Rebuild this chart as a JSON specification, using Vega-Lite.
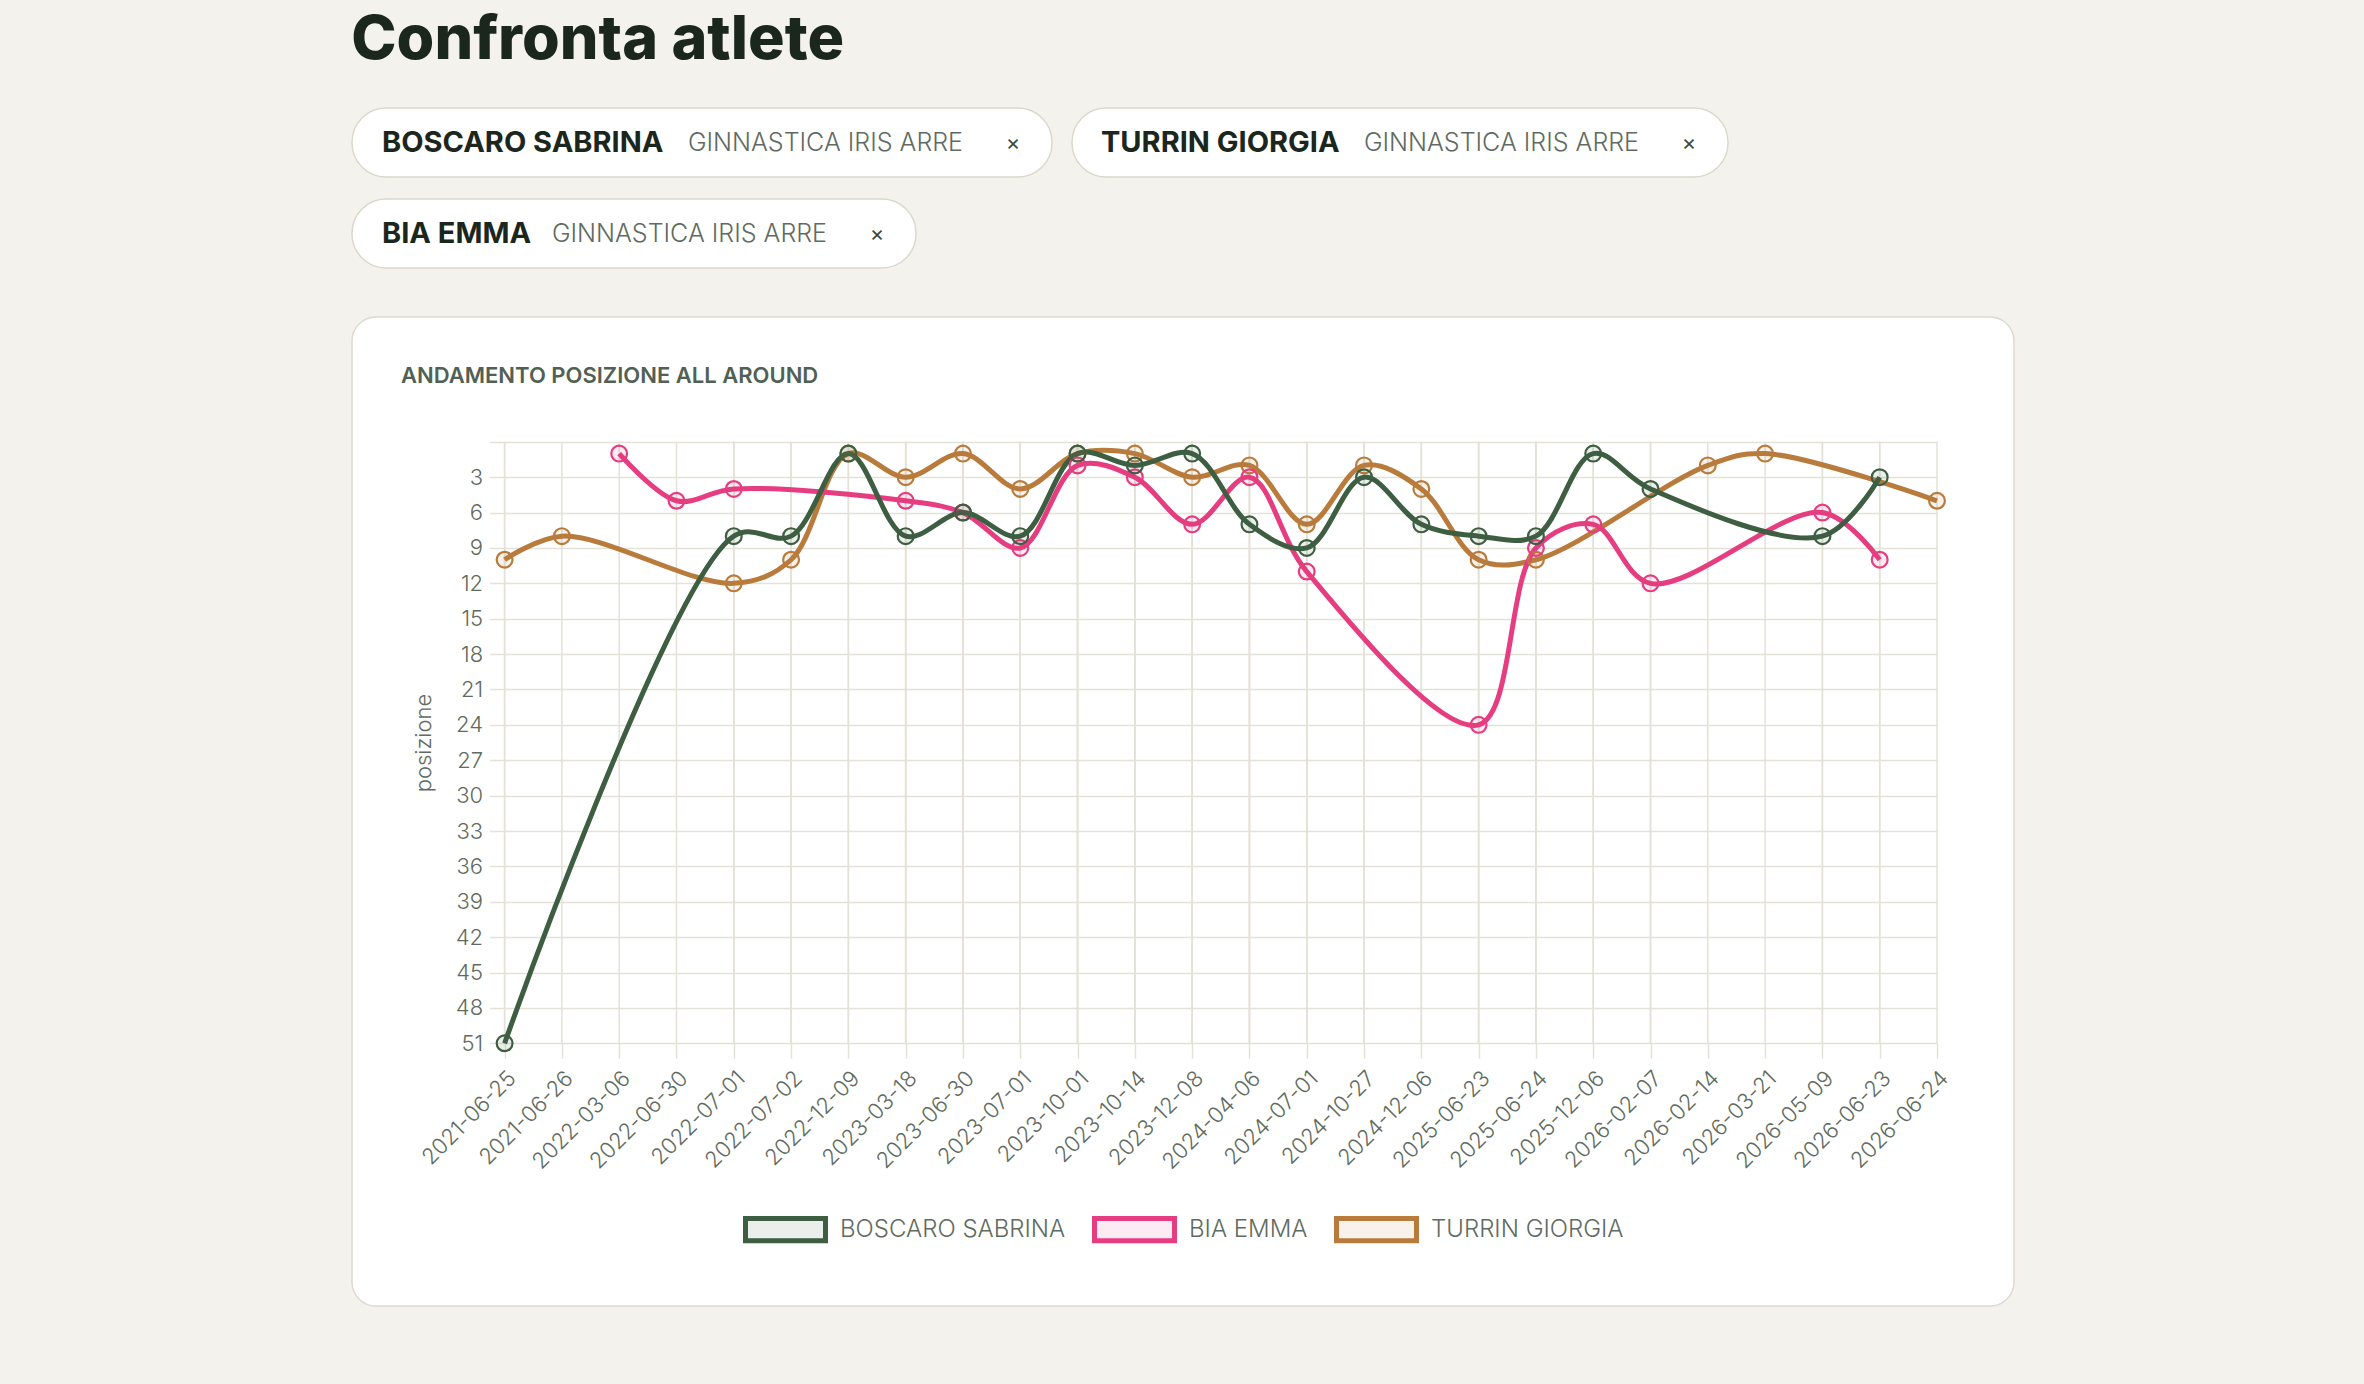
{
  "$schema": "https://vega.github.io/schema/vega-lite/v6.json",
  "background": "#f4f2ed",
  "padding": {"left": 351, "top": 10, "right": 351, "bottom": 81},
  "title": {"text": "Confronta atlete", "anchor": "start", "fontSize": 61, "fontWeight": 800, "font": "Inter", "color": "#1b261d", "baseline": "alphabetic", "offset": -13},
  "spacing": 47,
  "vconcat": [
    {
      "spacing": 20,
      "vconcat": [
        {
          "spacing": 18,
          "hconcat": [
            {
              "width": 700, "height": 69,
              "view": {"fill": "#ffffff", "stroke": "#dcd8cb", "strokeWidth": 1.5, "cornerRadius": 34},
              "data": {"values": [{"atleta": "BOSCARO SABRINA", "societa": "GINNASTICA IRIS ARRE"}]},
              "layer": [
                {"mark": {"type": "text", "align": "left", "dx": -320, "font": "Inter", "fontSize": 29, "fontWeight": 700, "color": "#1b261d"}, "encoding": {"text": {"field": "atleta"}}},
                {"mark": {"type": "text", "align": "right", "dx": 261, "font": "Inter", "fontSize": 25, "fontWeight": 300, "color": "#5f6b62"}, "encoding": {"text": {"field": "societa"}}},
                {"mark": {"type": "text", "align": "center", "dx": 311, "font": "Inter", "fontSize": 22, "color": "#3d4a40", "text": "×"}, "encoding": {}}
              ]
            },
            {
              "width": 656, "height": 69,
              "view": {"fill": "#ffffff", "stroke": "#dcd8cb", "strokeWidth": 1.5, "cornerRadius": 34},
              "data": {"values": [{"atleta": "TURRIN GIORGIA", "societa": "GINNASTICA IRIS ARRE"}]},
              "layer": [
                {"mark": {"type": "text", "align": "left", "dx": -299, "font": "Inter", "fontSize": 29, "fontWeight": 700, "color": "#1b261d"}, "encoding": {"text": {"field": "atleta"}}},
                {"mark": {"type": "text", "align": "right", "dx": 239, "font": "Inter", "fontSize": 25, "fontWeight": 300, "color": "#5f6b62"}, "encoding": {"text": {"field": "societa"}}},
                {"mark": {"type": "text", "align": "center", "dx": 289, "font": "Inter", "fontSize": 22, "color": "#3d4a40", "text": "×"}, "encoding": {}}
              ]
            }
          ]
        },
        {
          "width": 564, "height": 69,
          "view": {"fill": "#ffffff", "stroke": "#dcd8cb", "strokeWidth": 1.5, "cornerRadius": 34},
          "data": {"values": [{"atleta": "BIA EMMA", "societa": "GINNASTICA IRIS ARRE"}]},
          "layer": [
            {"mark": {"type": "text", "align": "left", "dx": -252, "font": "Inter", "fontSize": 29, "fontWeight": 700, "color": "#1b261d"}, "encoding": {"text": {"field": "atleta"}}},
            {"mark": {"type": "text", "align": "right", "dx": 193, "font": "Inter", "fontSize": 25, "fontWeight": 300, "color": "#5f6b62"}, "encoding": {"text": {"field": "societa"}}},
            {"mark": {"type": "text", "align": "center", "dx": 243, "font": "Inter", "fontSize": 22, "color": "#3d4a40", "text": "×"}, "encoding": {}}
          ]
        }
      ]
    },
    {
      "width": 1662, "height": 989,
      "view": {"fill": "#ffffff", "stroke": "#dedacf", "strokeWidth": 1.5, "cornerRadius": 24},
      "title": {"text": "ANDAMENTO POSIZIONE ALL AROUND", "anchor": "start", "dx": 49, "offset": -88, "baseline": "alphabetic", "fontSize": 22, "fontWeight": 600, "color": "#516054", "font": "Inter"},
      "data": {"values": [
        {"atleta": "TURRIN GIORGIA", "data": "2021-06-25", "posizione": 10},
        {"atleta": "TURRIN GIORGIA", "data": "2021-06-26", "posizione": 8},
        {"atleta": "TURRIN GIORGIA", "data": "2022-07-01", "posizione": 12},
        {"atleta": "TURRIN GIORGIA", "data": "2022-07-02", "posizione": 10},
        {"atleta": "TURRIN GIORGIA", "data": "2022-12-09", "posizione": 1},
        {"atleta": "TURRIN GIORGIA", "data": "2023-03-18", "posizione": 3},
        {"atleta": "TURRIN GIORGIA", "data": "2023-06-30", "posizione": 1},
        {"atleta": "TURRIN GIORGIA", "data": "2023-07-01", "posizione": 4},
        {"atleta": "TURRIN GIORGIA", "data": "2023-10-01", "posizione": 1},
        {"atleta": "TURRIN GIORGIA", "data": "2023-10-14", "posizione": 1},
        {"atleta": "TURRIN GIORGIA", "data": "2023-12-08", "posizione": 3},
        {"atleta": "TURRIN GIORGIA", "data": "2024-04-06", "posizione": 2},
        {"atleta": "TURRIN GIORGIA", "data": "2024-07-01", "posizione": 7},
        {"atleta": "TURRIN GIORGIA", "data": "2024-10-27", "posizione": 2},
        {"atleta": "TURRIN GIORGIA", "data": "2024-12-06", "posizione": 4},
        {"atleta": "TURRIN GIORGIA", "data": "2025-06-23", "posizione": 10},
        {"atleta": "TURRIN GIORGIA", "data": "2025-06-24", "posizione": 10},
        {"atleta": "TURRIN GIORGIA", "data": "2026-02-14", "posizione": 2},
        {"atleta": "TURRIN GIORGIA", "data": "2026-03-21", "posizione": 1},
        {"atleta": "TURRIN GIORGIA", "data": "2026-06-24", "posizione": 5},
        {"atleta": "BIA EMMA", "data": "2022-03-06", "posizione": 1},
        {"atleta": "BIA EMMA", "data": "2022-06-30", "posizione": 5},
        {"atleta": "BIA EMMA", "data": "2022-07-01", "posizione": 4},
        {"atleta": "BIA EMMA", "data": "2023-03-18", "posizione": 5},
        {"atleta": "BIA EMMA", "data": "2023-06-30", "posizione": 6},
        {"atleta": "BIA EMMA", "data": "2023-07-01", "posizione": 9},
        {"atleta": "BIA EMMA", "data": "2023-10-01", "posizione": 2},
        {"atleta": "BIA EMMA", "data": "2023-10-14", "posizione": 3},
        {"atleta": "BIA EMMA", "data": "2023-12-08", "posizione": 7},
        {"atleta": "BIA EMMA", "data": "2024-04-06", "posizione": 3},
        {"atleta": "BIA EMMA", "data": "2024-07-01", "posizione": 11},
        {"atleta": "BIA EMMA", "data": "2025-06-23", "posizione": 24},
        {"atleta": "BIA EMMA", "data": "2025-06-24", "posizione": 9},
        {"atleta": "BIA EMMA", "data": "2025-12-06", "posizione": 7},
        {"atleta": "BIA EMMA", "data": "2026-02-07", "posizione": 12},
        {"atleta": "BIA EMMA", "data": "2026-05-09", "posizione": 6},
        {"atleta": "BIA EMMA", "data": "2026-06-23", "posizione": 10},
        {"atleta": "BOSCARO SABRINA", "data": "2021-06-25", "posizione": 51},
        {"atleta": "BOSCARO SABRINA", "data": "2022-07-01", "posizione": 8},
        {"atleta": "BOSCARO SABRINA", "data": "2022-07-02", "posizione": 8},
        {"atleta": "BOSCARO SABRINA", "data": "2022-12-09", "posizione": 1},
        {"atleta": "BOSCARO SABRINA", "data": "2023-03-18", "posizione": 8},
        {"atleta": "BOSCARO SABRINA", "data": "2023-06-30", "posizione": 6},
        {"atleta": "BOSCARO SABRINA", "data": "2023-07-01", "posizione": 8},
        {"atleta": "BOSCARO SABRINA", "data": "2023-10-01", "posizione": 1},
        {"atleta": "BOSCARO SABRINA", "data": "2023-10-14", "posizione": 2},
        {"atleta": "BOSCARO SABRINA", "data": "2023-12-08", "posizione": 1},
        {"atleta": "BOSCARO SABRINA", "data": "2024-04-06", "posizione": 7},
        {"atleta": "BOSCARO SABRINA", "data": "2024-07-01", "posizione": 9},
        {"atleta": "BOSCARO SABRINA", "data": "2024-10-27", "posizione": 3},
        {"atleta": "BOSCARO SABRINA", "data": "2024-12-06", "posizione": 7},
        {"atleta": "BOSCARO SABRINA", "data": "2025-06-23", "posizione": 8},
        {"atleta": "BOSCARO SABRINA", "data": "2025-06-24", "posizione": 8},
        {"atleta": "BOSCARO SABRINA", "data": "2025-12-06", "posizione": 1},
        {"atleta": "BOSCARO SABRINA", "data": "2026-02-07", "posizione": 4},
        {"atleta": "BOSCARO SABRINA", "data": "2026-05-09", "posizione": 8},
        {"atleta": "BOSCARO SABRINA", "data": "2026-06-23", "posizione": 3}
      ]},
      "encoding": {
        "x": {
          "field": "data", "type": "ordinal",
          "scale": {"type": "point", "padding": 0, "range": [152.6, 1585],
            "domain": ["2021-06-25","2021-06-26","2022-03-06","2022-06-30","2022-07-01","2022-07-02","2022-12-09","2023-03-18","2023-06-30","2023-07-01","2023-10-01","2023-10-14","2023-12-08","2024-04-06","2024-07-01","2024-10-27","2024-12-06","2025-06-23","2025-06-24","2025-12-06","2026-02-07","2026-02-14","2026-03-21","2026-05-09","2026-06-23","2026-06-24"]},
          "axis": {"title": null, "labelAngle": -45, "labelAlign": "right", "labelBaseline": "top", "labelFontSize": 22, "labelFont": "Inter", "labelFontWeight": 300, "labelColor": "#5f6b60", "labelPadding": 9, "labelOverlap": false, "labelBound": false, "tickSize": 15, "tickColor": "#e4e1d7", "tickWidth": 1.5, "grid": false, "domain": false, "offset": -262.7}
        },
        "y": {
          "field": "posizione", "type": "quantitative",
          "scale": {"domain": [0, 51], "range": [124.8, 726.3], "nice": false, "zero": false},
          "axis": {"title": "posizione", "values": [0,3,6,9,12,15,18,21,24,27,30,33,36,39,42,45,48,51], "labelExpr": "datum.value == 0 ? '' : datum.label", "labelFontSize": 22, "labelFont": "Inter", "labelFontWeight": 300, "labelColor": "#5f6b60", "labelPadding": 7, "titleFont": "Inter", "titleFontSize": 22, "titleFontWeight": 300, "titleColor": "#5f6b60", "titlePadding": 20, "tickSize": 15, "tickColor": "#e4e1d7", "tickWidth": 1.5, "grid": true, "gridColor": "#e4e1d7", "gridWidth": 1.5, "domain": false, "offset": -152.6}
        }
      },
      "layer": [
        {"mark": {"type": "rule", "color": "#e4e1d7", "strokeWidth": 1.5},
         "encoding": {"y": {"datum": 0}, "y2": {"datum": 51}}},
        {"mark": {"type": "line", "interpolate": "catmull-rom", "strokeWidth": 5},
         "encoding": {"color": {"field": "atleta", "type": "nominal",
           "scale": {"domain": ["BOSCARO SABRINA", "BIA EMMA", "TURRIN GIORGIA"], "range": ["#3e5e42", "#e63d80", "#b97b3c"]},
           "legend": {"orient": "none", "legendX": 391, "legendY": 1079, "direction": "horizontal", "title": null, "padding": 0, "symbolType": "M-1,-0.28H1V0.28H-1Z", "symbolSize": 6400, "symbolStrokeWidth": 5, "labelFontSize": 24, "labelFont": "Inter", "labelFontWeight": 300, "labelColor": "#5f6b60", "labelOffset": 12, "labelLimit": 500, "columnPadding": 18,
             "encode": {"symbols": {"update": {"fillOpacity": {"value": 0.1}, "strokeWidth": {"value": 5}, "opacity": {"value": 1}}}}}}}},
        {"mark": {"type": "point", "shape": "circle", "filled": true, "size": 250, "fillOpacity": 0.1, "strokeWidth": 2.2, "opacity": 1},
         "encoding": {
           "color": {"field": "atleta", "type": "nominal",
             "scale": {"domain": ["BOSCARO SABRINA", "BIA EMMA", "TURRIN GIORGIA"], "range": ["#3e5e42", "#e63d80", "#b97b3c"]},
             "legend": {"orient": "none", "legendX": 391, "legendY": 1079, "direction": "horizontal", "title": null, "padding": 0, "symbolType": "M-1,-0.28H1V0.28H-1Z", "symbolSize": 6400, "symbolStrokeWidth": 5, "labelFontSize": 24, "labelFont": "Inter", "labelFontWeight": 300, "labelColor": "#5f6b60", "labelOffset": 12, "labelLimit": 500, "columnPadding": 18,
               "encode": {"symbols": {"update": {"fillOpacity": {"value": 0.1}, "strokeWidth": {"value": 5}, "opacity": {"value": 1}}}}}},
           "stroke": {"field": "atleta", "type": "nominal",
             "scale": {"domain": ["BOSCARO SABRINA", "BIA EMMA", "TURRIN GIORGIA"], "range": ["#3e5e42", "#e63d80", "#b97b3c"]},
             "legend": {"orient": "none", "legendX": 391, "legendY": 1079, "direction": "horizontal", "title": null, "padding": 0, "symbolType": "M-1,-0.28H1V0.28H-1Z", "symbolSize": 6400, "symbolStrokeWidth": 5, "labelFontSize": 24, "labelFont": "Inter", "labelFontWeight": 300, "labelColor": "#5f6b60", "labelOffset": 12, "labelLimit": 500, "columnPadding": 18,
               "encode": {"symbols": {"update": {"fillOpacity": {"value": 0.1}, "strokeWidth": {"value": 5}, "opacity": {"value": 1}}}}}}}}
      ]
    }
  ],
  "config": {"font": "Inter", "view": {"stroke": null}}
}
